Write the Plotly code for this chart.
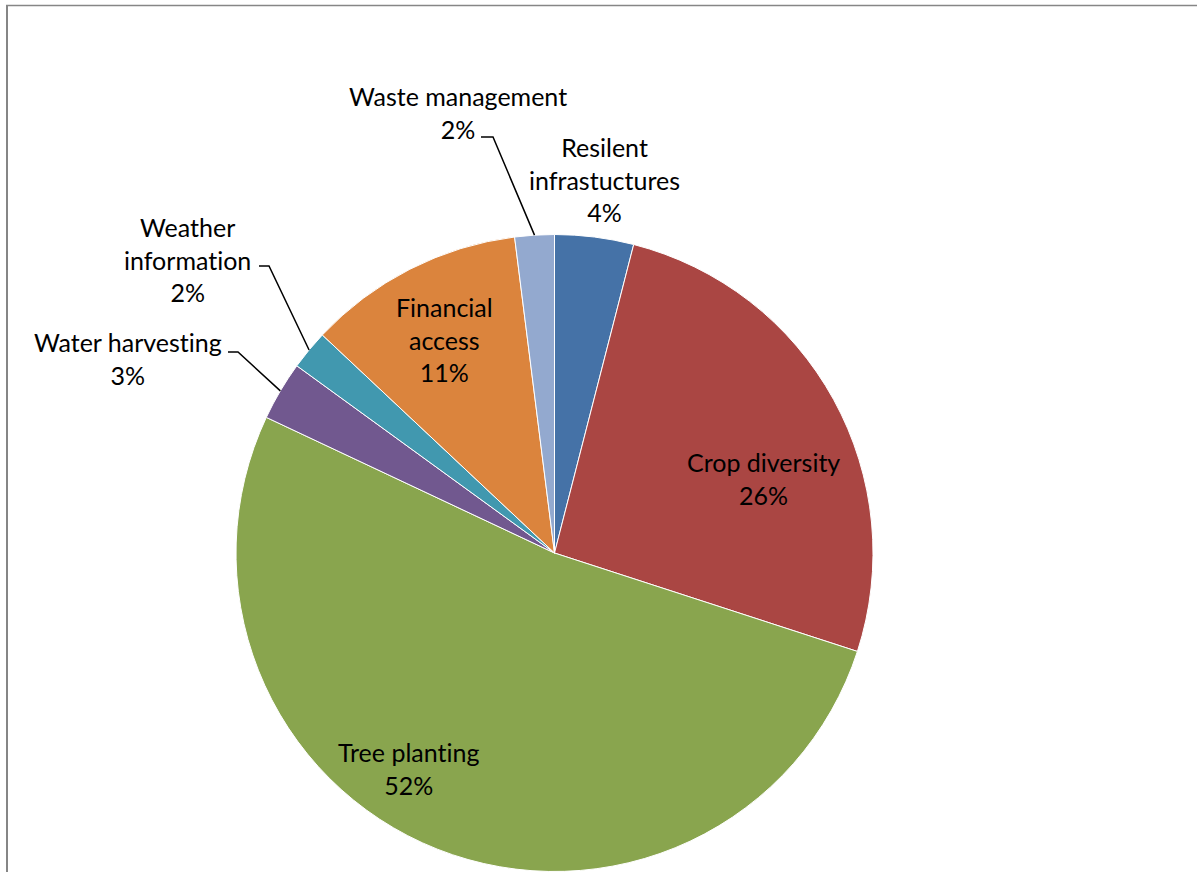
import math
import plotly.graph_objects as go

# Share of adaptation practices (percent)
categories = ["Resilent infrastuctures", "Crop diversity", "Tree planting",
              "Water harvesting", "Weather information", "Financial access",
              "Waste management"]
shares = [4, 26, 52, 3, 2, 11, 2]
colors = ["#4572A7", "#AA4643", "#89A54E", "#71588F", "#4198AF", "#DB843D", "#93A9CF"]

W, H = 1197, 872
CX, CY, R = 554.5, 553.0, 318.5  # pie centre and radius in pixels

FONT = dict(family="Lato, Calibri, sans-serif", size=25, color="black")
ZWNJ = "\u200c"  # keeps "t" and "i" as separate glyphs (no ligature)

# Label block layout: text lines, centre (px), optional leader elbow (x_start, x_end, y)
label_layout = {
    "Resilent infrastuctures": dict(lines=["Resilent", "infrastuctures"], pos=(604.5, 179), leader=None),
    "Crop diversity": dict(lines=["Crop diversity"], pos=(763.5, 478), leader=None),
    "Tree planting": dict(lines=["Tree planting"], pos=(408.5, 768), leader=None),
    "Water harvesting": dict(lines=["Water harvesting"], pos=(128, 358), leader=(228, 238, 352)),
    "Weather information": dict(lines=["Weather", "information"], pos=(187, 259), leader=(259, 269, 266)),
    "Financial access": dict(lines=["Financial", "access"], pos=(444, 339), leader=None),
    "Waste management": dict(lines=["Waste management"], pos=(458, 112), leader=(481, 493, 137)),
}


def px(x):
    return x / W


def py(y):
    return 1 - y / H


def no_lig(s):
    return s.replace("ti", "t" + ZWNJ + "i")


fig = go.Figure()
fig.add_trace(go.Pie(
    labels=categories,
    values=shares,
    sort=False,
    direction="clockwise",
    rotation=0,
    marker=dict(colors=colors, line=dict(color="white", width=1)),
    textinfo="none",
    hoverinfo="label+percent",
    showlegend=False,
    domain=dict(x=[(CX - R) / W, (CX + R) / W], y=[(H - CY - R) / H, (H - CY + R) / H]),
))

total = sum(shares)
cum = 0.0
annotations = []
shapes = []
for name, val in zip(categories, shares):
    mid = (cum + val / 2) / total * 2 * math.pi
    cum += val
    spec = label_layout[name]
    pct = round(val / total * 100)
    text = "<br>".join([no_lig(s) for s in spec["lines"]] + [f"{pct}%"])
    lx, ly = spec["pos"]
    annotations.append(dict(
        x=px(lx), y=py(ly), xref="paper", yref="paper",
        text=text, showarrow=False, xanchor="center", yanchor="middle",
        align="center", font=FONT,
    ))
    if spec["leader"]:
        x0, x1, ye = spec["leader"]
        ex = CX + R * math.sin(mid)
        ey = CY - R * math.cos(mid)
        shapes.append(dict(type="path", xref="paper", yref="paper",
                           path=f"M {px(x0)},{py(ye)} L {px(x1)},{py(ye)} L {px(ex)},{py(ey)}",
                           line=dict(color="black", width=1.5)))

# Chart area frame (left and top edges)
shapes.append(dict(type="line", xref="paper", yref="paper",
                   x0=px(7), x1=px(7), y0=py(5.5), y1=py(H + 5),
                   line=dict(color="#868686", width=2)))
shapes.append(dict(type="line", xref="paper", yref="paper",
                   x0=px(6), x1=px(W + 5), y0=py(5.5), y1=py(5.5),
                   line=dict(color="#868686", width=1.3)))

fig.update_layout(
    width=W, height=H,
    margin=dict(l=0, r=0, t=0, b=0),
    paper_bgcolor="white",
    plot_bgcolor="white",
    annotations=annotations,
    shapes=shapes,
)

fig.write_html("out.html")
